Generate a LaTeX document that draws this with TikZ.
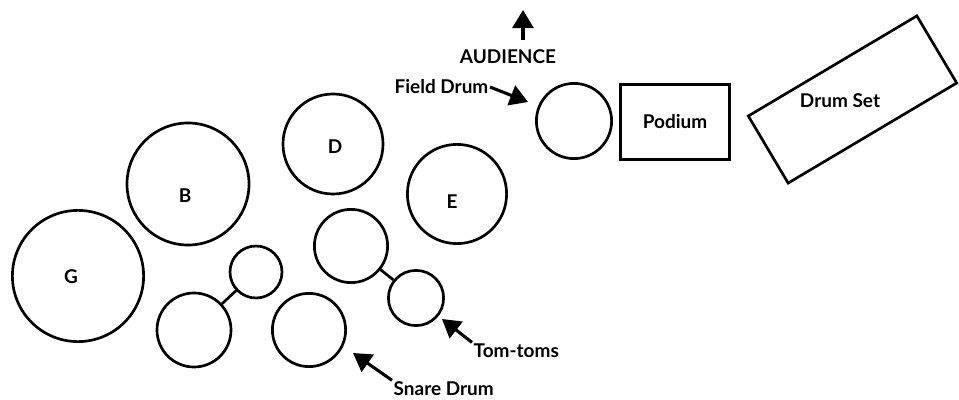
\documentclass[tikz,border=0pt]{standalone}
\usepackage{fontspec}
\setmainfont{Lato}
\usetikzlibrary{arrows.meta}

\begin{document}
\begin{tikzpicture}[x=0.025cm, y=-0.025cm,
	drum/.style={draw, circle, line width=1.9pt, inner sep=0pt},
	tag/.style={font=\fontsize{13.5}{15}\selectfont\bfseries, inner sep=1pt},
	pointer/.style={line width=2.2pt, -{Triangle[length=0.45cm, width=0.52cm]}}]
	\useasboundingbox (0,0) rectangle (959,400);

	% timpani
	\node[drum, minimum size=3.28cm] (G) at (78,276) {};
	\node[drum, minimum size=3.05cm] (B) at (188,184) {};
	\node[drum, minimum size=2.5cm] (D) at (333,144) {};
	\node[drum, minimum size=2.48cm] (E) at (457,194) {};
	\node[tag] (Glbl) at (71,277) {G};
	\node[tag] (Blbl) at (185,196) {B};
	\node[tag] (Dlbl) at (335,147) {D};
	\node[tag] (Elbl) at (452,202) {E};

	% tom-toms e rullante
	\node[drum, minimum size=1.3cm] (tomsmallL) at (256,272) {};
	\node[drum, minimum size=1.85cm] (tomL) at (194,330) {};
	\node[drum, minimum size=1.83cm] (snare) at (309,330) {};
	\node[drum, minimum size=1.83cm] (tomR) at (351,246) {};
	\node[drum, minimum size=1.38cm] (tomsmallR) at (416,298) {};
	\draw[line width=1.9pt] (tomL) -- (tomsmallL);
	\draw[line width=1.9pt] (tomR) -- (tomsmallR);

	% fronte
	\node[drum, minimum size=1.88cm] (field) at (574,121) {};
	\node[draw, line width=1.9pt, minimum width=2.73cm, minimum height=1.88cm, tag]
		(podium) at (675,122) {Podium};
	\node[draw, line width=1.9pt, rotate=30.7, minimum width=4.9cm, minimum height=1.95cm]
		(drumset) at (852.5,99.5) {};
	\node[tag] (drumsetlbl) at (840,101) {Drum Set};

	% indicazioni
	\coordinate (audtip) at (523,10);
	\coordinate (fdtip) at (528,102);
	\coordinate (tttip) at (442,319);
	\coordinate (sdtip) at (353,353);
	\node[tag] (audience) at (508,57) {AUDIENCE};
	\draw[pointer, shorten <=2mm] (audience.north -| audtip) -- (audtip);
	\node[tag, anchor=east] (fdlbl) at (490,87) {Field Drum};
	\draw[pointer] (fdlbl.east) -- (fdtip);
	\node[tag, anchor=west] (ttlbl) at (472,351) {Tom-toms};
	\draw[pointer] (ttlbl.north west) -- (tttip);
	\node[tag, anchor=west] (sdlbl) at (392,389) {Snare Drum};
	\draw[pointer] (sdlbl.north west) -- (sdtip);

\end{tikzpicture}
\end{document}
